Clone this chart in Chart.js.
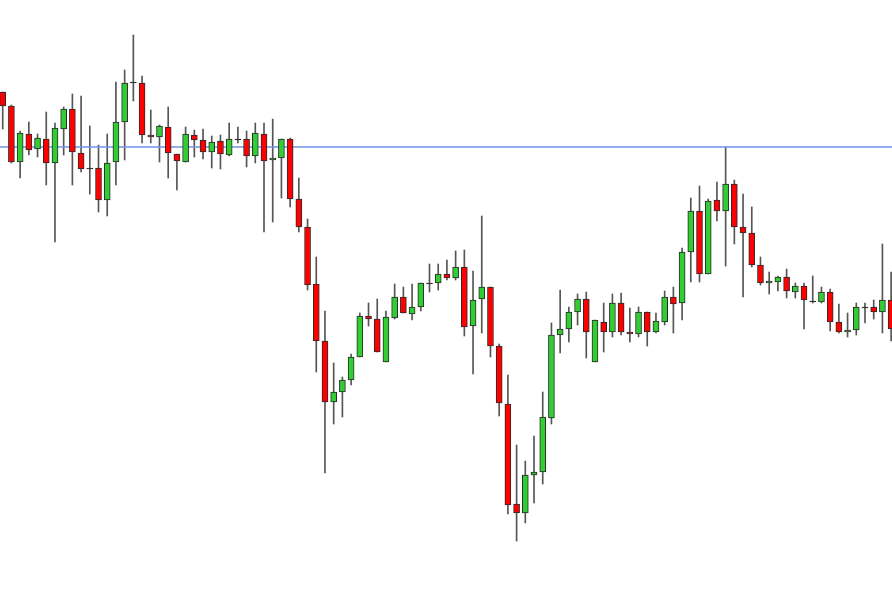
<!DOCTYPE html>
<html>
<head>
<meta charset="utf-8">
<script src="https://cdn.jsdelivr.net/npm/chart.js@4/dist/chart.umd.min.js"></script>
<style>
  html, body { margin: 0; padding: 0; background: #fff; }
  #wrap { width: 892px; height: 600px; }
</style>
</head>
<body>
<div id="wrap"><canvas id="candles" width="892" height="600"></canvas></div>
<script>
// candle values (price units, bottom of frame = 0)
const opens = [
  508, 494, 438, 466, 451, 461, 437, 471, 491, 447, 432, 432, 400, 438, 478, 518, 517, 465, 463, 473,
  446, 438, 465, 460, 448, 459, 445, 461, 461, 444, 466, 440, 442, 461, 401, 373, 316, 259, 198, 208,
  220, 243, 284, 281, 238, 282, 303, 286, 293, 317, 317, 326, 322, 333, 274, 301, 313, 254, 196, 96,
  87, 125, 128, 182, 265, 271, 288, 301, 238, 278, 268, 297, 268, 266, 288, 268, 278, 303, 297, 348,
  389, 326, 400, 389, 416, 373, 367, 335, 317, 318, 323, 308, 314, 299, 298, 308, 278, 268, 270, 293,
  293, 288, 300
];
const highs = [
  508, 495, 469, 478, 466, 488, 477, 493, 506, 504, 474, 455, 466, 518, 530, 565, 524, 490, 475, 493,
  446, 473, 470, 471, 464, 465, 477, 473, 469, 477, 477, 481, 461, 462, 422, 381, 343, 289, 237, 223,
  246, 287, 297, 301, 289, 316, 313, 316, 317, 336, 336, 340, 349, 350, 329, 384, 313, 256, 225, 155,
  139, 164, 208, 277, 310, 293, 306, 308, 280, 297, 306, 307, 292, 293, 288, 287, 309, 313, 352, 402,
  414, 401, 418, 453, 420, 406, 393, 343, 328, 324, 331, 317, 317, 324, 313, 311, 296, 287, 297, 297,
  300, 356, 328
];
const lows = [
  471, 437, 422, 445, 443, 415, 358, 445, 415, 428, 406, 388, 384, 415, 440, 499, 457, 457, 438, 422,
  410, 438, 443, 441, 432, 431, 444, 457, 433, 437, 368, 378, 402, 393, 368, 310, 228, 127, 176, 183,
  215, 243, 274, 248, 238, 281, 287, 280, 289, 308, 310, 320, 320, 264, 226, 267, 243, 184, 86, 59,
  77, 97, 116, 176, 247, 258, 275, 242, 238, 248, 263, 265, 258, 263, 254, 267, 275, 267, 280, 318,
  318, 326, 379, 334, 356, 303, 333, 315, 306, 309, 302, 302, 271, 297, 297, 269, 267, 263, 265, 277,
  281, 267, 259
];
const closes = [
  494, 438, 467, 450, 462, 437, 472, 491, 448, 431, 431, 400, 437, 478, 517, 517, 465, 463, 474, 447,
  439, 466, 460, 448, 458, 446, 461, 460, 444, 467, 439, 442, 461, 401, 373, 315, 259, 198, 208, 220,
  243, 284, 281, 248, 283, 303, 287, 293, 317, 316, 326, 322, 333, 273, 300, 313, 254, 197, 95, 87,
  125, 128, 183, 265, 271, 288, 301, 268, 280, 268, 297, 268, 266, 288, 268, 279, 303, 296, 348, 389,
  326, 399, 389, 416, 373, 367, 335, 317, 319, 323, 309, 314, 300, 298, 308, 278, 268, 270, 293, 292,
  288, 300, 271
];
const resistance = 453;

const idx = opens.map((_, i) => i);
const bodyColor = opens.map((o, i) => {
  const c = closes[i];
  if (Math.abs(c - o) <= 1) return '#111111';
  return c > o ? '#32cd32' : '#ff0000';
});

new Chart(document.getElementById('candles'), {
  type: 'bar',
  data: {
    datasets: [
      {
        label: 'body',
        data: idx.map((i) => ({ x: i, y: [opens[i], closes[i]] })),
        backgroundColor: bodyColor,
        borderColor: '#2a2a2a',
        borderWidth: 1,
        borderSkipped: false,
        barThickness: 6,
        grouped: false,
        order: 0,
      },
      {
        label: 'wick',
        data: idx.map((i) => ({ x: i, y: [lows[i], highs[i]] })),
        backgroundColor: '#555555',
        borderWidth: 0,
        barThickness: 1,
        grouped: false,
        order: 2,
      },
      {
        type: 'line',
        label: 'level',
        data: [{ x: -1, y: resistance }, { x: 104, y: resistance }],
        borderColor: '#6f93e6',
        borderWidth: 1.6,
        pointRadius: 0,
        order: 1,
      },
    ],
  },
  options: {
    responsive: false,
    animation: false,
    events: [],
    layout: { padding: 0 },
    plugins: { legend: { display: false }, tooltip: { enabled: false } },
    scales: {
      x: { type: 'linear', min: -0.31, max: 102.1, offset: false, display: false },
      y: { min: 0, max: 600, display: false },
    },
  },
});
</script>
</body>
</html>
